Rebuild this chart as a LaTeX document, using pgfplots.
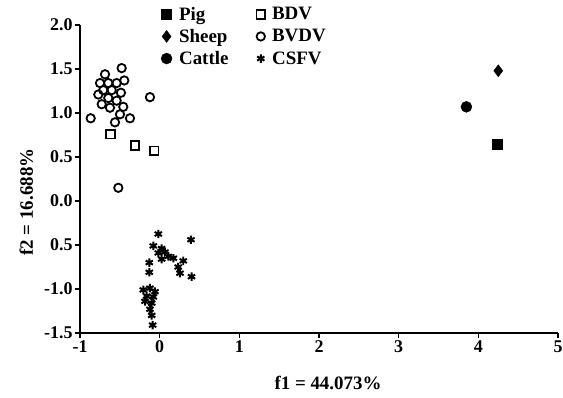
\documentclass[border=0pt]{standalone}
\usepackage{fontspec}
\setmainfont{Liberation Serif}
\usepackage{pgfplots}
\pgfplotsset{compat=1.18}
\begin{document}
\begin{tikzpicture}[x=1bp,y=1bp]
\path[use as bounding box] (0,0) rectangle (563,397);
\begin{axis}[
  at={(80bp,64bp)}, anchor=south west,
  scale only axis, width=478bp, height=308bp,
  xmin=-1, xmax=5, ymin=-1.5, ymax=2,
  axis x line=bottom, axis y line=left,
  axis line style={-, line width=1.8pt},
  tick align=outside, major tick length=5bp,
  every tick/.style={line width=1.5pt, black},
  xtick={-1,0,1,2,3,4,5},
  ytick={-1.5,-1,-0.5,0,0.5,1,1.5,2},
  yticklabels={-1.5,-1.0,0.5,0.0,0.5,1.0,1.5,2.0},
  tick label style={font=\fontsize{18}{19}\selectfont\bfseries},
  xticklabel style={yshift=1bp},
  yticklabel style={xshift=1bp},
  /pgf/number format/assume math mode=true,
  xlabel={f1 = 44.073\%}, ylabel={f2 = 16.688\%},
  xlabel style={font=\fontsize{19}{20}\selectfont\bfseries, yshift=-17bp, xshift=9bp},
  ylabel style={font=\fontsize{19}{20}\selectfont\bfseries, at={(ticklabel cs:0.425)}, yshift=4bp},
  legend columns=2,
  legend style={at={(0.163,1.072)}, anchor=north west, draw=none, fill=none,
    font=\fontsize{19}{20}\selectfont\bfseries, row sep=3.5bp,
    /tikz/every odd column/.append style={column sep=5bp},
    /tikz/every even column/.append style={column sep=26bp}},
  legend cell align=left,
  clip=false,
]
% Pig
\addplot[only marks, mark=square*, mark size=5bp, black] coordinates {(4.24,0.64)};
\addlegendentry{Pig}
% BDV
\addplot[only marks, mark=square, mark size=4.3bp, line width=1.8pt, black] coordinates {
(-0.615,0.76) (-0.31,0.63) (-0.068,0.57)};
\addlegendentry{BDV}
% Sheep
\addplot[only marks, mark=diamond*, mark size=6bp, black] coordinates {(4.25,1.48)};
\addlegendentry{Sheep}
% BVDV
\addplot[only marks, mark=o, mark size=4.2bp, line width=1.8pt, black] coordinates {
(-0.477,1.51) (-0.686,1.44) (-0.444,1.37) (-0.749,1.34) (-0.645,1.34) (-0.540,1.34)
(-0.708,1.26) (-0.602,1.26) (-0.770,1.21) (-0.486,1.23) (-0.645,1.17) (-0.540,1.14)
(-0.728,1.10) (-0.624,1.06) (-0.457,1.07) (-0.498,0.985) (-0.373,0.94) (-0.561,0.894)
(-0.866,0.94) (-0.122,1.18) (-0.519,0.15)};
\addlegendentry{BVDV}
% Cattle
\addplot[only marks, mark=*, mark size=5.5bp, black] coordinates {(3.85,1.07)};
\addlegendentry{Cattle}
% CSFV
\addplot[only marks, mark=asterisk, mark size=4.2bp, line width=2pt, black] coordinates {
(-0.017,-0.375) (0.393,-0.44) (-0.080,-0.51) (0.025,-0.54) (0.066,-0.58) (-0.017,-0.59)
(0.108,-0.63) (0.025,-0.66) (0.171,-0.65) (0.296,-0.68) (0.233,-0.75) (-0.130,-0.70)
(-0.130,-0.81) (0.255,-0.82) (0.40,-0.86) (-0.206,-1.01) (-0.122,-0.99) (-0.059,-1.03)
(-0.163,-1.08) (-0.080,-1.09) (-0.184,-1.14) (-0.100,-1.16) (-0.122,-1.23) (-0.100,-1.30)
(-0.088,-1.41)};
\addlegendentry{CSFV}
\end{axis}
\end{tikzpicture}
\end{document}
